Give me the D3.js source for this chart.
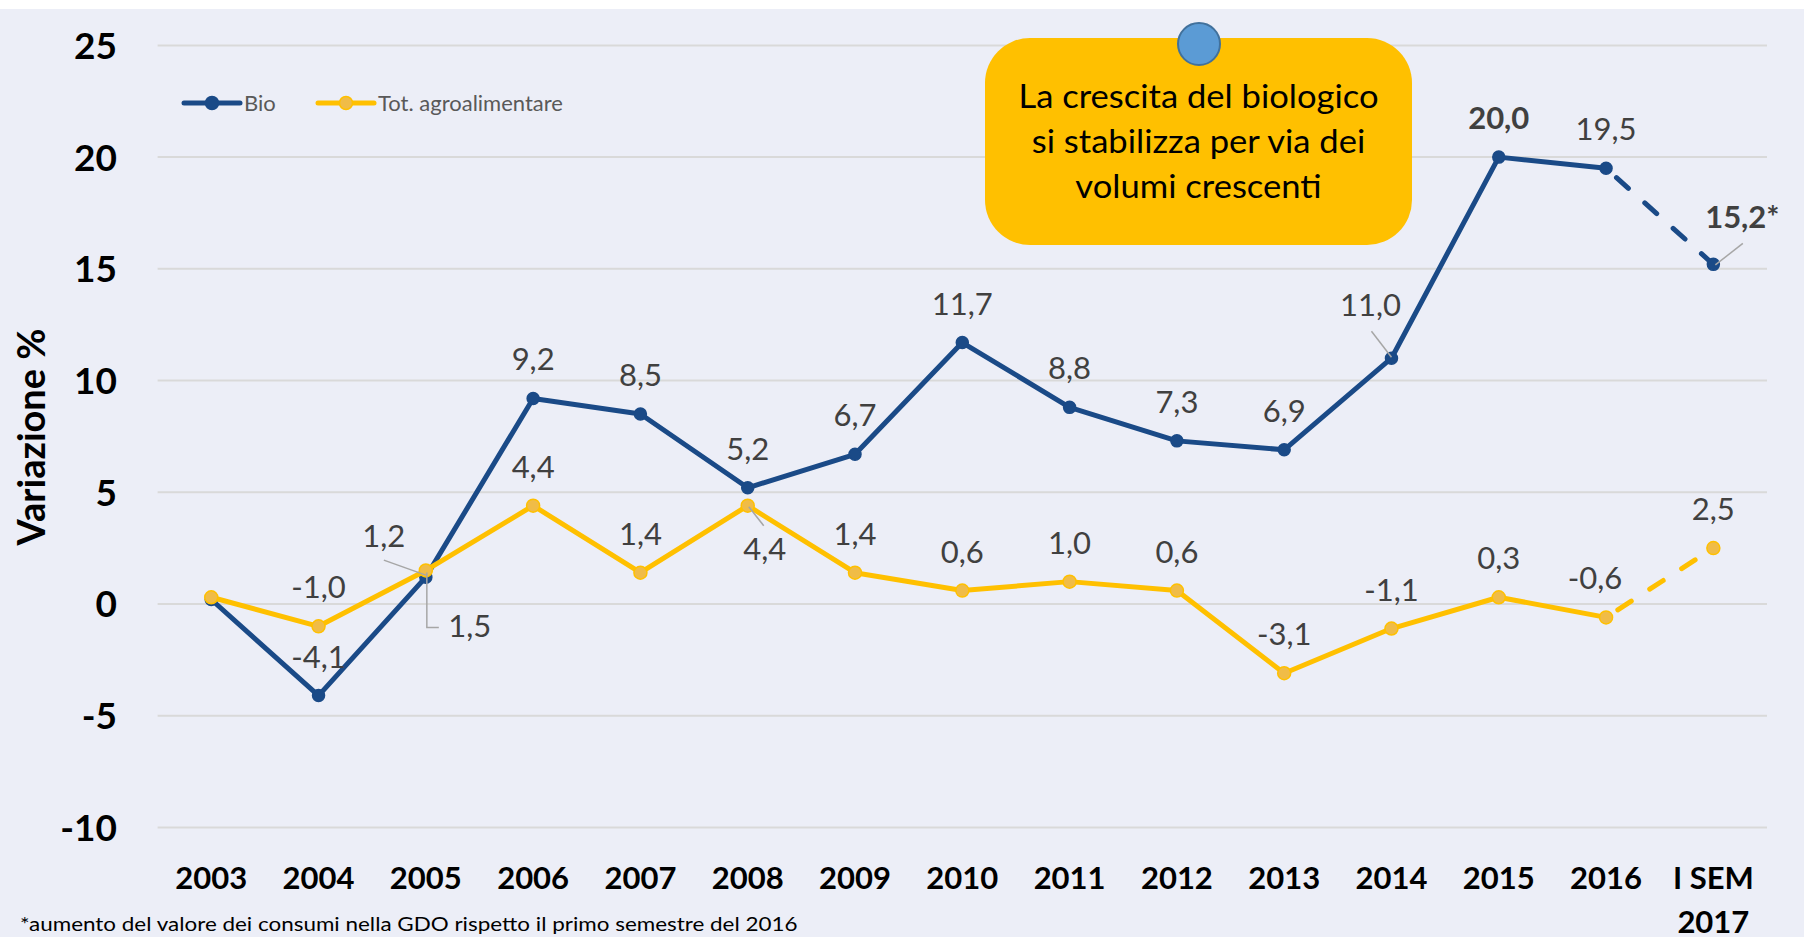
<!DOCTYPE html>
<html>
<meta charset="utf-8">
<style>
body { margin: 0; background: #fff; }
svg { display: block; font-family: Lato, "Open Sans", sans-serif; }
.grid line { stroke: #d9d9d9; stroke-width: 2; }
.ytick { font-weight: bold; font-size: 37px; fill: #000; text-anchor: end; }
.xtick { font-weight: bold; font-size: 31px; fill: #000; text-anchor: middle; }
.lbl { font-size: 31px; fill: #404040; text-anchor: middle; }
.leader { stroke: #a6a6a6; stroke-width: 1.5; fill: none; }
.legend text { font-size: 22px; fill: #595959; }
</style>
<body>
<svg width="1804" height="937"></svg>
<script src="https://cdnjs.cloudflare.com/ajax/libs/d3/7.8.5/d3.min.js"></script>
<script>

var categories = ["2003", "2004", "2005", "2006", "2007", "2008", "2009", "2010",
                  "2011", "2012", "2013", "2014", "2015", "2016", "I SEM 2017"];
var bio = [0.2, -4.1, 1.2, 9.2, 8.5, 5.2, 6.7, 11.7, 8.8, 7.3, 6.9, 11.0, 20.0, 19.5, 15.2];
var tot = [0.3, -1.0, 1.5, 4.4, 1.4, 4.4, 1.4, 0.6, 1.0, 0.6, -3.1, -1.1, 0.3, -0.6, 2.5];
var yTicks = [25, 20, 15, 10, 5, 0, -5, -10];
var seriesNames = ["Bio", "Tot. agroalimentare"];
var noteLines = ["La crescita del biologico", "si stabilizza per via dei", "volumi crescenti"];
var yTitle = "Variazione %";
var footnote = "*aumento del valore dei consumi nella GDO rispetto il primo semestre del 2016";

var svg = d3.select("svg");

var blue = "#1a4a87", yellow = "#ffc000", yellowDot = "#f0bc47";

var x = d3.scalePoint()
    .domain(categories)
    .range([157.6, 1767])
    .padding(0.5);

var y = d3.scaleLinear()
    .domain([-10, 25])
    .range([827.4, 45.4]);

var it = d3.formatLocale({decimal: ",", thousands: ".", grouping: [3], currency: ["", "€"], minus: "-"});
var fmt = it.format(".1f");

// stretch text a bit wider, the source slide is squashed horizontally
function widen(sel, k) {
    sel.each(function() {
        var w = this.getComputedTextLength();
        d3.select(this).attr("textLength", w * k).attr("lengthAdjust", "spacingAndGlyphs");
    });
}

// background
svg.append("rect").attr("x", 0).attr("y", 9).attr("width", 1804).attr("height", 928)
    .attr("fill", "#eceef7");

// grid
svg.append("g").attr("class", "grid")
  .selectAll("line").data(yTicks).enter().append("line")
    .attr("x1", 157.6).attr("x2", 1767)
    .attr("y1", function(d) { return y(d); })
    .attr("y2", function(d) { return y(d); });

svg.append("g").selectAll("text").data(yTicks).enter().append("text")
    .attr("class", "ytick")
    .attr("x", 117)
    .attr("y", function(d) { return y(d) + 13.5; })
    .text(function(d) { return d; });

// x labels
var xl = svg.append("g").selectAll("text").data(categories).enter().append("text")
    .attr("class", "xtick")
    .attr("x", function(d) { return x(d); })
    .attr("y", 889);
xl.each(function(d) {
    var t = d3.select(this);
    if (d.indexOf("SEM") > 0) {
        t.append("tspan").attr("x", x(d)).text("I SEM");
        t.append("tspan").attr("x", x(d)).attr("dy", 44).text(d.split(" ")[2]);
    } else t.text(d);
});

svg.append("text")
    .attr("transform", "translate(45,437) rotate(-90)")
    .attr("text-anchor", "middle")
    .attr("font-weight", "bold")
    .attr("font-size", 38)
    .attr("fill", "#000")
    .text(yTitle);

var line = d3.line()
    .x(function(d) { return x(d.c); })
    .y(function(d) { return y(d.v); });

function drawSeries(vals, color, dotFill, r) {
    var pts = vals.map(function(v, i) { return {c: categories[i], v: v}; });
    var n = pts.length;
    svg.append("path").datum(pts.slice(0, n - 1))
        .attr("d", line).attr("fill", "none")
        .attr("stroke", color).attr("stroke-width", 5)
        .attr("stroke-linejoin", "round");
    svg.append("path").datum(pts.slice(n - 2))
        .attr("d", line).attr("fill", "none")
        .attr("stroke", color).attr("stroke-width", 5)
        .attr("stroke-linecap", "round")
        .attr("stroke-dasharray", "16,22")
        .attr("stroke-dashoffset", -14);
    svg.append("g").selectAll("circle").data(pts).enter().append("circle")
        .attr("cx", function(d) { return x(d.c); })
        .attr("cy", function(d) { return y(d.v); })
        .attr("r", r)
        .attr("fill", dotFill)
        .attr("stroke", color).attr("stroke-width", 1.5);
}

drawSeries(bio, blue, blue, 6);
drawSeries(tot, yellow, yellowDot, 6.5);

// data labels: [dx, dy of baseline] relative to point
var shift = {
    "bio-2005": [-42, -30], "bio-2014": [-21, -42], "bio-I SEM 2017": [29, -36],
    "tot-2005": [44, 67], "tot-2008": [17, 54], "tot-2016": [-11, -28]
};
var boldLabels = ["bio-2015", "bio-I SEM 2017"];

function drawLabels(key, vals) {
    vals.forEach(function(v, i) {
        if (i === 0) return;
        var c = categories[i], id = key + "-" + c;
        var s = shift[id] || [0, -28];
        var txt = fmt(v) + (key === "bio" && i === vals.length - 1 ? "*" : "");
        svg.append("text").attr("class", "lbl")
            .attr("x", x(c) + s[0])
            .attr("y", y(v) + s[1])
            .attr("font-weight", boldLabels.indexOf(id) >= 0 ? "bold" : null)
            .text(txt);
    });
}
drawLabels("bio", bio);
drawLabels("tot", tot);

// leader lines, offsets from the point
function leader(vals, i, pts) {
    var px = x(categories[i]), py = y(vals[i]);
    svg.append("path").attr("class", "leader")
        .attr("d", d3.line()(pts.map(function(p) { return [px + p[0], py + p[1]]; })));
}
leader(bio, 2, [[-42, -17], [0, -2]]);
leader(tot, 2, [[1, 2], [1, 57], [13, 57]]);
leader(tot, 5, [[1, 1], [16, 20]]);
leader(bio, 11, [[-20, -27], [0, -1]]);
leader(bio, 14, [[29.5, -21], [2, 0.6]]);

// legend
var lg = svg.append("g").attr("class", "legend");
[[184, blue, blue], [318, yellow, yellowDot]].forEach(function(o, i) {
    lg.append("line").attr("x1", o[0]).attr("x2", o[0] + 56)
        .attr("y1", 103).attr("y2", 103)
        .attr("stroke", o[1]).attr("stroke-width", 5).attr("stroke-linecap", "round");
    lg.append("circle").attr("cx", o[0] + 28).attr("cy", 103).attr("r", 6.5)
        .attr("fill", o[2]).attr("stroke", o[1]).attr("stroke-width", 1.5);
    lg.append("text").attr("x", o[0] + 60).attr("y", 111).text(seriesNames[i]);
});

// annotation box
svg.append("rect").attr("x", 985).attr("y", 38).attr("width", 427).attr("height", 207)
    .attr("rx", 45).attr("fill", "#ffc000");
svg.append("circle").attr("cx", 1199).attr("cy", 44).attr("r", 21)
    .attr("fill", "#5b9bd5").attr("stroke", "#41719c").attr("stroke-width", 2);
svg.append("g").selectAll("text").data(noteLines).enter().append("text")
    .attr("x", 1198.5)
    .attr("y", function(d, i) { return 108 + i * 45; })
    .attr("text-anchor", "middle")
    .attr("font-size", 32)
    .attr("fill", "#000")
    .text(function(d) { return d; })
    .call(widen, 1.08);

svg.append("text")
    .attr("x", 20).attr("y", 931)
    .attr("font-size", 19.5)
    .attr("fill", "#000")
    .text(footnote)
    .call(widen, 1.15);

</script>
</body>
</html>
